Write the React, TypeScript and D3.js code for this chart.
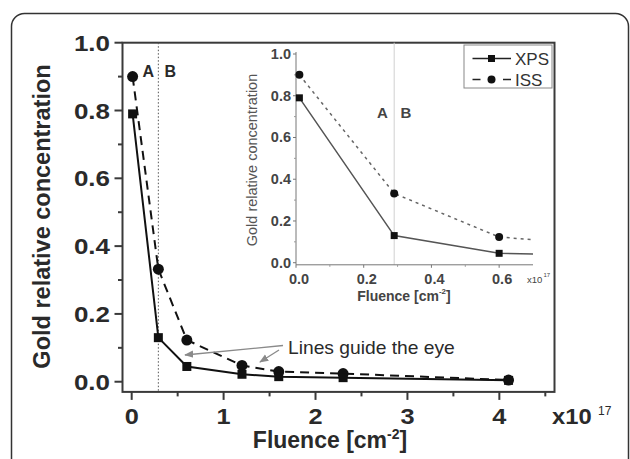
import React from 'react';
import * as d3 from 'd3';

// fluence in units of 1e17 cm^-2
const fluence = [0.01, 0.29, 0.6, 1.2, 1.6, 2.3, 4.1];
const xpsValues = [0.79, 0.13, 0.045, 0.022, 0.015, 0.012, 0.004];
const issValues = [0.9, 0.332, 0.123, 0.048, 0.03, 0.024, 0.005];
const seriesNames = ['XPS', 'ISS'];

const boundary = 0.29;

const xMajor = [0, 1, 2, 3, 4];
const xMinor = [0.5, 1.5, 2.5, 3.5, 4.5];
const yMajor = [0, 0.2, 0.4, 0.6, 0.8, 1.0];
const yMinor = [0.1, 0.3, 0.5, 0.7, 0.9];

const insetXMajor = [0, 0.2, 0.4, 0.6];
const insetXMinor = [0.1, 0.3, 0.5];
const insetYMajor = [0, 0.2, 0.4, 0.6, 0.8, 1.0];
const insetYMinor = [0.1, 0.3, 0.5, 0.7, 0.9];

const FONT = '"Liberation Sans", Arial, sans-serif';
const INK = '#2a2a2a';

type Pt = { x: number; y: number };

function points(values: number[]): Pt[] {
    return fluence.map((f, i) => ({ x: f, y: values[i] }));
}

// text that is a bit wider than the font, like the scanned figure
function SText({ x, y, sx = 1, children, ...rest }: any) {
    return (
        <text transform={`translate(${x},${y}) scale(${sx},1)`} {...rest}>
            {children}
        </text>
    );
}

function Markers({ data, shape, size, x, y, fill }: any) {
    return (
        <g>
            {data.map((d: Pt, i: number) =>
                shape === 'square' ? (
                    <rect key={i} x={x(d.x) - size / 2} y={y(d.y) - size / 2} width={size} height={size} fill={fill} />
                ) : (
                    <circle key={i} cx={x(d.x)} cy={y(d.y)} r={size / 2} fill={fill} />
                )
            )}
        </g>
    );
}

export default function App() {
    const x = d3.scaleLinear().domain([-0.1, 4.6]).range([122.5, 554.5]);
    const y = d3.scaleLinear().domain([-0.03, 1.0]).range([391.9, 42.7]);

    const ix = d3.scaleLinear().domain([0, 0.7]).range([296, 533]);
    const iy = d3.scaleLinear().domain([-0.01, 1.0]).range([264.8, 54]);

    const xps = points(xpsValues);
    const iss = points(issValues);

    const line = d3.line<Pt>().x((d) => x(d.x)).y((d) => y(d.y));
    const insetLine = d3.line<Pt>().x((d) => ix(d.x)).y((d) => iy(d.y));

    const [x0, x1] = x.range();
    const [yb, yt] = y.range();
    const [ix0, ix1] = ix.range();
    const [iyb, iyt] = iy.range();

    return (
        <svg width={630} height={459} style={{ position: 'absolute', left: 0, top: 0, background: '#fff' }} fontFamily={FONT}>
            <defs>
                <clipPath id="insetClip">
                    <rect x={ix0 - 6} y={iyt - 6} width={ix1 - ix0 + 6} height={iyb - iyt + 12} />
                </clipPath>
                <marker id="arrow" viewBox="0 0 10 10" refX={9} refY={5} markerWidth={7} markerHeight={7} orient="auto">
                    <path d="M0,1 L10,5 L0,9 Z" fill="#8a8a8a" />
                </marker>
            </defs>

            {/* outer rounded panel */}
            <rect x={11.5} y={13.5} width={617} height={480} rx={13} fill="none" stroke="#333" strokeWidth={1.5} />

            {/* main frame */}
            <rect x={x0} y={yt} width={x1 - x0} height={yb - yt} fill="none" stroke="#3a3a3a" strokeWidth={2} />

            {/* boundary A | B */}
            <line x1={x(boundary)} x2={x(boundary)} y1={yt} y2={yb} stroke="#555" strokeWidth={1} strokeDasharray="1.5,2" />
            <text x={x(0.18)} y={77} fontSize={16} fontWeight="bold" fill={INK} textAnchor="middle">A</text>
            <text x={x(0.42)} y={77} fontSize={16} fontWeight="bold" fill={INK} textAnchor="middle">B</text>

            {/* main axes ticks */}
            {xMajor.map((t) => (
                <g key={'xm' + t}>
                    <line x1={x(t)} x2={x(t)} y1={yb} y2={yb + 8} stroke="#3a3a3a" strokeWidth={2} />
                    <SText x={x(t)} y={424} sx={1.15} fontSize={22} fontWeight="bold" fill={INK} textAnchor="middle">{t}</SText>
                </g>
            ))}
            {xMinor.map((t) => (
                <line key={'xn' + t} x1={x(t)} x2={x(t)} y1={yb} y2={yb + 4.5} stroke="#3a3a3a" strokeWidth={2} />
            ))}
            {yMajor.map((t) => (
                <g key={'ym' + t}>
                    <line x1={x0 - 8} x2={x0} y1={y(t)} y2={y(t)} stroke="#3a3a3a" strokeWidth={2} />
                    <SText x={110} y={y(t) + 8} sx={1.18} fontSize={22} fontWeight="bold" fill={INK} textAnchor="end">{t.toFixed(1)}</SText>
                </g>
            ))}
            {yMinor.map((t) => (
                <line key={'yn' + t} x1={x0 - 4.5} x2={x0} y1={y(t)} y2={y(t)} stroke="#3a3a3a" strokeWidth={2} />
            ))}

            <SText x={552} y={424} sx={1.08} fontSize={22} fontWeight="bold" fill={INK}>x10</SText>
            <text x={598} y={415} fontSize={12} fill={INK}>17</text>

            <text x={330} y={448} fontSize={23} fontWeight="bold" fill={INK} textAnchor="middle">
                Fluence [cm<tspan fontSize={14} dy={-9}>-2</tspan><tspan dy={9}>]</tspan>
            </text>
            <text transform={`translate(50, 216.5) rotate(-90)`} fontSize={23.5} fontWeight="bold" fill={INK} textAnchor="middle">
                Gold relative concentration
            </text>

            {/* main series */}
            <path d={line(iss) || ''} fill="none" stroke="#111" strokeWidth={2} strokeDasharray="9,6" />
            <path d={line(xps) || ''} fill="none" stroke="#111" strokeWidth={2} />
            <Markers data={iss} shape="circle" size={11} x={x} y={y} fill="#111" />
            <Markers data={xps} shape="square" size={9} x={x} y={y} fill="#111" />

            {/* annotation */}
            <SText x={288} y={354} sx={1.1} fontSize={17.5} fill={INK}>Lines guide the eye</SText>
            <line x1={283} y1={345.5} x2={185} y2={355} stroke="#8a8a8a" strokeWidth={1.3} markerEnd="url(#arrow)" />
            <line x1={279} y1={350} x2={260} y2={362} stroke="#8a8a8a" strokeWidth={1.3} markerEnd="url(#arrow)" />

            {/* inset */}
            <line x1={ix(boundary)} x2={ix(boundary)} y1={yt} y2={iyb} stroke="#d0d0d0" strokeWidth={1} />
            <line x1={ix0} x2={ix0} y1={iyt - 2} y2={iyb} stroke="#777" strokeWidth={1} />
            <line x1={ix0} x2={ix1} y1={iyb} y2={iyb} stroke="#777" strokeWidth={1} />
            {insetYMajor.map((t) => (
                <g key={'iym' + t}>
                    <line x1={ix0 - 3} x2={ix0} y1={iy(t)} y2={iy(t)} stroke="#777" strokeWidth={1} />
                    <text x={ix0 - 5} y={iy(t) + 5} fontSize={14.5} fontWeight="bold" fill="#444" textAnchor="end">{t.toFixed(1)}</text>
                </g>
            ))}
            {insetYMinor.map((t) => (
                <line key={'iyn' + t} x1={ix0 - 2} x2={ix0} y1={iy(t)} y2={iy(t)} stroke="#999" strokeWidth={1} />
            ))}
            {insetXMajor.map((t) => (
                <g key={'ixm' + t}>
                    <line x1={ix(t)} x2={ix(t)} y1={iyb} y2={iyb + 3} stroke="#777" strokeWidth={1} />
                    <text x={ix(t) + 3} y={284} fontSize={14.5} fontWeight="bold" fill="#444" textAnchor="middle">{t.toFixed(1)}</text>
                </g>
            ))}
            {insetXMinor.map((t) => (
                <line key={'ixn' + t} x1={ix(t)} x2={ix(t)} y1={iyb} y2={iyb + 2} stroke="#999" strokeWidth={1} />
            ))}
            <text x={527} y={283} fontSize={9.5} fill="#444">x10</text>
            <text x={543.5} y={277} fontSize={6} fill="#444">17</text>
            <text x={404} y={301} fontSize={14} fontWeight="bold" fill="#444" textAnchor="middle">
                Fluence [cm<tspan fontSize={8} dy={-7}>-2</tspan><tspan dy={7}>]</tspan>
            </text>
            <text transform={`translate(257, 160) rotate(-90)`} fontSize={14.5} fill="#555" textAnchor="middle">
                Gold relative concentration
            </text>
            <text x={ix(0.255)} y={118} fontSize={15} fontWeight="bold" fill="#444" textAnchor="middle">A</text>
            <text x={ix(0.325)} y={118} fontSize={15} fontWeight="bold" fill="#444" textAnchor="middle">B</text>

            <g clipPath="url(#insetClip)">
                <path d={insetLine(iss) || ''} fill="none" stroke="#666" strokeWidth={1.5} strokeDasharray="3,4" />
                <path d={insetLine(xps) || ''} fill="none" stroke="#555" strokeWidth={1.5} />
                <Markers data={iss.filter((d) => d.x <= 0.7)} shape="circle" size={8} x={ix} y={iy} fill="#111" />
                <Markers data={xps.filter((d) => d.x <= 0.7)} shape="square" size={7} x={ix} y={iy} fill="#111" />
            </g>

            {/* legend */}
            <rect x={464} y={45} width={88} height={43} fill="#fff" stroke="#888" strokeWidth={1} />
            {seriesNames.map((name, i) => {
                const ly = 58.5 + i * 21;
                return (
                    <g key={name}>
                        <line x1={472.5} x2={511} y1={ly} y2={ly} stroke="#222" strokeWidth={1.6} strokeDasharray={i === 0 ? undefined : '8,22.5,8'} />
                        {i === 0 ? (
                            <rect x={488} y={ly - 3.5} width={7} height={7} fill="#111" />
                        ) : (
                            <circle cx={491.5} cy={ly} r={4} fill="#111" />
                        )}
                        <text x={515} y={ly + 6} fontSize={17} fill="#333">{name}</text>
                    </g>
                );
            })}
        </svg>
    );
}
